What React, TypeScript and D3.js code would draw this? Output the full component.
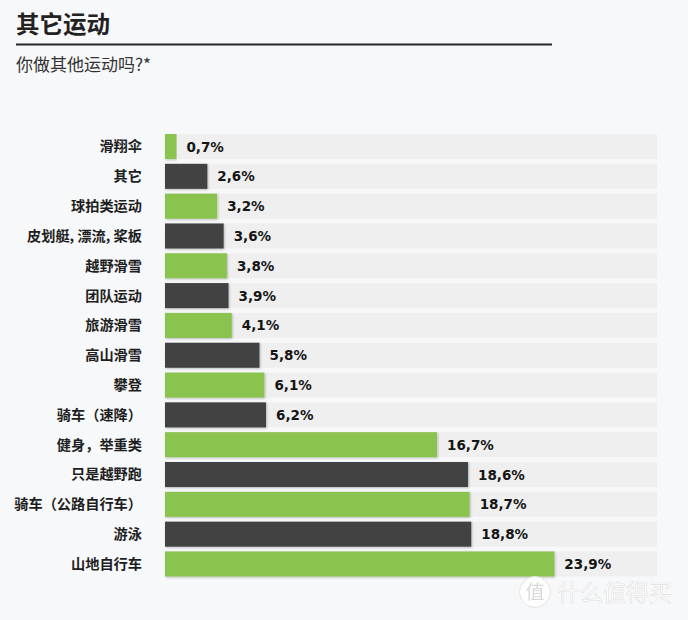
import React from "react";
import * as d3 from "d3";

const categories = [
  "滑翔伞",
  "其它",
  "球拍类运动",
  "皮划艇, 漂流, 桨板",
  "越野滑雪",
  "团队运动",
  "旅游滑雪",
  "高山滑雪",
  "攀登",
  "骑车（速降）",
  "健身，举重类",
  "只是越野跑",
  "骑车（公路自行车）",
  "游泳",
  "山地自行车",
];
const values = [0.7, 2.6, 3.2, 3.6, 3.8, 3.9, 4.1, 5.8, 6.1, 6.2, 16.7, 18.6, 18.7, 18.8, 23.9];
const valueLabels = ["0,7%", "2,6%", "3,2%", "3,6%", "3,8%", "3,9%", "4,1%", "5,8%", "6,1%", "6,2%", "16,7%", "18,6%", "18,7%", "18,8%", "23,9%"];
const colorGroups = ["g", "d", "g", "d", "g", "d", "g", "d", "g", "d", "g", "d", "g", "d", "g"];

const title = "其它运动";
const subtitle = "你做其他运动吗?*";

const W = 688;
const H = 620;
const CJK = "'Noto Sans CJK SC', 'Noto Sans', sans-serif";
const NUM = "'DejaVu Sans', sans-serif";

export default function App() {
  const x = d3.scaleLinear().domain([0, 30.2]).range([165, 657]);
  const y = d3
    .scaleBand<string>()
    .domain(categories)
    .range([132.5, 578])
    .paddingInner(0.16)
    .paddingOuter(0.05);
  const color = d3.scaleOrdinal<string, string>().domain(["g", "d"]).range(["#8bc34f", "#434343"]);

  return (
    <svg
      width={W}
      height={H}
      style={{ position: "absolute", left: 0, top: 0, display: "block" }}
    >
      <defs>
        <filter id="sh" x="-5%" y="-20%" width="110%" height="150%">
          <feDropShadow dx="0.8" dy="1" stdDeviation="0.8" floodColor="#000" floodOpacity="0.25" />
        </filter>
      </defs>
      <rect x={0} y={0} width={W} height={H} fill="#f7f8fa" />
      <text x={16} y={33} fontFamily={CJK} fontWeight={700} fontSize={23.5} fill="#222">
        {title}
      </text>
      <line x1={16} x2={552} y1={44.5} y2={44.5} stroke="#262626" strokeWidth={2} />
      <text x={16} y={71} fontFamily={CJK} fontWeight={400} fontSize={17} fill="#333">
        {subtitle}
      </text>
      {categories.map((c, i) => {
        const yy = y(c)!;
        const bh = y.bandwidth();
        return (
          <g key={c}>
            <rect x={x(0)} y={yy} width={x(30.2) - x(0)} height={bh} fill="#efefef" />
            <rect
              x={x(0)}
              y={yy}
              width={x(values[i]) - x(0)}
              height={bh}
              fill={color(colorGroups[i])}
              filter="url(#sh)"
            />
            <text
              x={142}
              y={yy + bh / 2}
              dy="0.35em"
              textAnchor="end"
              fontFamily={CJK}
              fontWeight={700}
              fontSize={14.2}
              fill="#1e1e1e"
            >
              {c}
            </text>
            <text
              x={x(values[i]) + 10}
              y={yy + bh / 2}
              dy="0.37em"
              fontFamily={NUM}
              fontWeight={700}
              fontSize={13.5}
              fill="#151515"
            >
              {valueLabels[i]}
            </text>
          </g>
        );
      })}
      <g opacity={0.95}>
        <circle cx={535} cy={592} r={15.5} fill="#ffffff" stroke="#e2e2e2" strokeWidth={1} />
        <text x={535} y={592} dy="0.35em" textAnchor="middle" fontFamily={CJK} fontSize={19} fill="#d8d8d8">
          值
        </text>
        <text
          x={557}
          y={593}
          dy="0.35em"
          fontFamily={CJK}
          fontSize={23}
          fill="#ffffff"
          stroke="#dedede"
          strokeWidth={0.6}
        >
          什么值得买
        </text>
      </g>
    </svg>
  );
}
